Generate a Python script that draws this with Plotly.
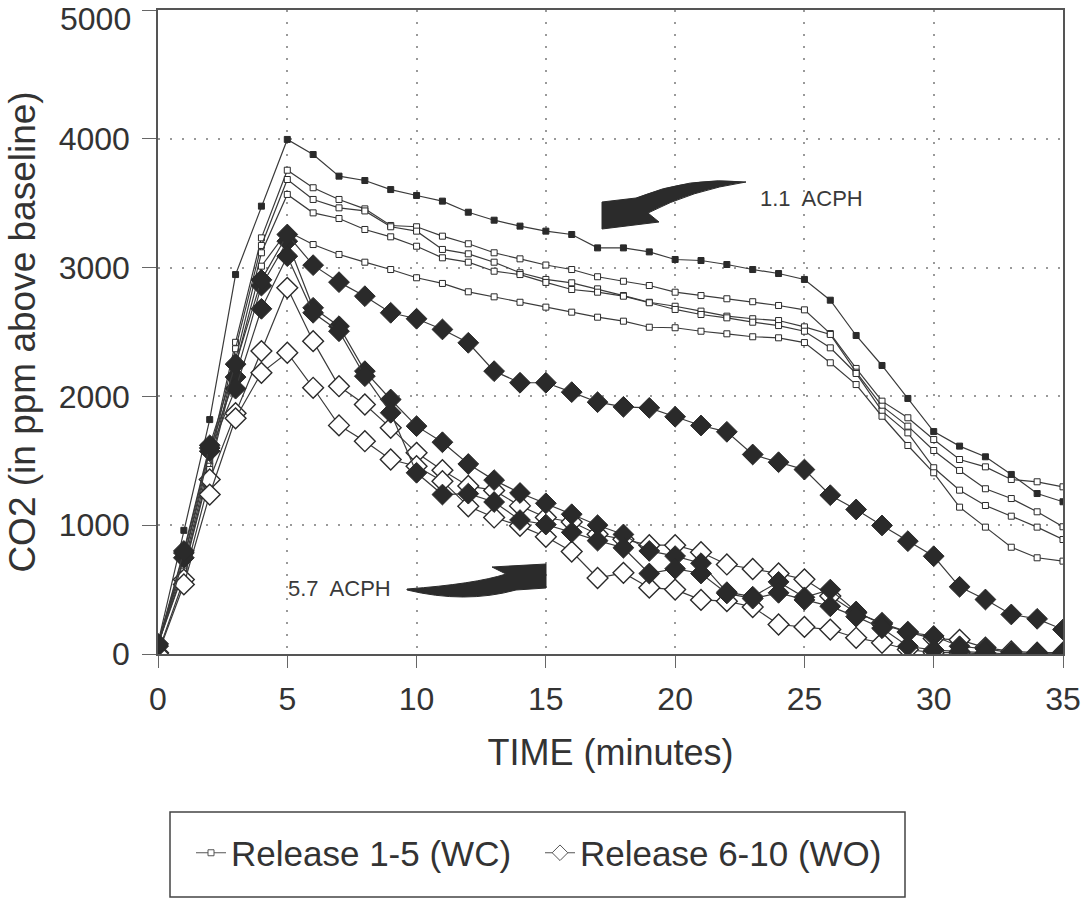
import plotly.graph_objects as go

# ---------------- data ----------------
time_min = list(range(36))

# Release 1-5 (WC) - squares
wc_1 = [87, 960, 1820, 2946, 3477, 3995, 3878, 3710, 3676, 3606, 3560, 3516, 3430, 3368, 3322, 3283,
        3257, 3153, 3153, 3122, 3063, 3055, 3024, 2985, 2954, 2908, 2747, 2473, 2240, 1984, 1727, 1614,
        1531, 1394, 1246, 1182]
wc_2 = [90, 734, 1536, 2420, 3231, 3756, 3620, 3529, 3456, 3327, 3317, 3244, 3185, 3115, 3068, 3020,
        2985, 2929, 2894, 2861, 2809, 2783, 2758, 2735, 2706, 2672, 2488, 2217, 1963, 1834, 1665, 1510,
        1453, 1355, 1337, 1298]
wc_3 = [85, 695, 1497, 2370, 3172, 3684, 3529, 3464, 3440, 3317, 3283, 3141, 3107, 3042, 2960, 2908,
        2882, 2835, 2783, 2731, 2700, 2662, 2623, 2603, 2589, 2540, 2481, 2188, 1924, 1769, 1580, 1425,
        1283, 1207, 1104, 988]
wc_4 = [80, 660, 1458, 2290, 3115, 3568, 3425, 3381, 3296, 3239, 3166, 3076, 3042, 2972, 2946, 2885,
        2830, 2809, 2778, 2727, 2675, 2636, 2610, 2576, 2550, 2506, 2377, 2178, 1885, 1717, 1446, 1272,
        1153, 1070, 985, 889]
wc_5 = [75, 643, 1432, 2240, 3011, 3283, 3179, 3102, 3042, 2985, 2921, 2877, 2812, 2773, 2731, 2693,
        2654, 2615, 2584, 2537, 2533, 2506, 2486, 2463, 2455, 2418, 2261, 2092, 1846, 1619, 1407, 1140,
        985, 829, 747, 721]

# Release 6-10 (WO) - diamonds
wo_6 = [80, 800, 1620, 2250, 2905, 3257, 3019, 2887, 2778, 2649, 2603, 2520, 2416, 2196, 2106, 2106,
        2033, 1955, 1919, 1911, 1842, 1774, 1725, 1549, 1489, 1432, 1233, 1122, 998, 876, 759, 522,
        423, 307, 273, 190]
wo_7 = [70, 785, 1600, 2150, 2860, 3205, 2688, 2545, 2196, 1976, 1769, 1644, 1475, 1350, 1250, 1170,
        1085, 1000, 928, 800, 760, 705, 480, 445, 560, 440, 500, 330, 230, 170, 140, 60, 40, 10, 0, 0]
wo_8 = [60, 747, 1575, 2060, 2680, 3089, 2649, 2506, 2157, 1873, 1407, 1238, 1245, 1180, 1040, 1005,
        945, 880, 825, 625, 662, 625, 470, 430, 475, 420, 370, 290, 200, 60, 30, 20, 10, 0, 0, 0]
wo_9 = [10, 578, 1355, 1870, 2352, 2843, 2429, 2079, 1937, 1756, 1562, 1427, 1305, 1270, 1150, 1060,
        1025, 930, 890, 845, 845, 790, 695, 660, 625, 580, 450, 320, 240, 170, 120, 110, 50, 20, 10, 10]
wo_10 = [0, 540, 1238, 1830, 2183, 2339, 2067, 1775, 1652, 1510, 1458, 1342, 1147, 1060, 995, 910,
         795, 590, 630, 515, 500, 420, 410, 365, 229, 210, 190, 126, 87, 35, 10, 10, 0, 0, 0, 0]

x_ticks = [0, 5, 10, 15, 20, 25, 30, 35]
y_ticks = [0, 1000, 2000, 3000, 4000, 5000]
y_tick_text = ["0", "1000", "2000", "3000", "4000", ""]   # top label drawn separately (kept inside page)
y_top_label = "5000"
legend_names = ["Release 1-5 (WC)", "Release 6-10 (WO)"]
notes = ["1.1  ACPH", "5.7  ACPH"]

# ---------------- styling ----------------
FONT = "Liberation Sans, Arial, Helvetica, sans-serif"
INK = "#2a2a2a"
LINE = dict(color="#3a3a3a", width=1.2)

fig = go.Figure()

def add(y, symbol, size, filled, lw=1.0):
    fig.add_trace(go.Scatter(
        x=time_min, y=y, mode="lines+markers", showlegend=False,
        line=LINE,
        marker=dict(symbol=symbol, size=size,
                    color=INK if filled else "white",
                    line=dict(color=INK, width=lw)),
        hoverinfo="skip"))

# squares
add(wc_2, "square", 6, False)
add(wc_3, "square", 6, False)
add(wc_4, "square", 6, False)
add(wc_5, "square", 6, False)
add(wc_1, "square", 6, True)
# diamonds
add(wo_9, "diamond", 16, False, 1.4)
add(wo_10, "diamond", 16, False, 1.4)
add(wo_7, "diamond", 16, True, 1.0)
add(wo_8, "diamond", 16, True, 1.0)
add(wo_6, "diamond", 16, True, 1.0)

# legend-only entries
fig.add_trace(go.Scatter(x=[None], y=[None], mode="lines+markers", name=legend_names[0],
                         line=dict(color="#555", width=1),
                         marker=dict(symbol="square", size=6, color="white",
                                     line=dict(color="#555", width=1))))
fig.add_trace(go.Scatter(x=[None], y=[None], mode="lines+markers", name=legend_names[1],
                         line=dict(color="#555", width=1),
                         marker=dict(symbol="diamond", size=12, color="white",
                                     line=dict(color="#555", width=1))))

# ---------------- geometry helpers ----------------
L, R, T, B = 158, 1063, 10, 654
XR, YR = 35.0, 5000.0

def P(px, py):
    x = (px - L) / (R - L) * XR
    y = (B - py) / (B - T) * YR
    return f"{x:.4f},{y:.2f}"

def px_paper(px):
    return (px - L) / (R - L)

def py_paper(py):
    return (B - py) / (B - T)

# curved arrows
arrow1 = ("M " + P(746, 182) +
          " Q " + P(690, 176) + " " + P(636, 198) +
          " L " + P(602, 202) + " L " + P(602, 229) + " L " + P(659, 222) +
          " L " + P(648, 213) +
          " Q " + P(692, 190) + " " + P(746, 182) + " Z")
arrow2 = ("M " + P(407, 589) +
          " Q " + P(475, 584) + " " + P(506, 574) +
          " L " + P(492, 567) + " L " + P(546, 564) + " L " + P(546, 588) +
          " L " + P(516, 590) +
          " Q " + P(465, 604) + " " + P(407, 590) + " Z")
for pth in (arrow1, arrow2):
    fig.add_shape(type="path", path=pth, xref="x", yref="y",
                  fillcolor="#2b2b2b", line=dict(color="#2b2b2b", width=1), layer="above")

fig.add_annotation(x=(811 - L) / (R - L) * XR, y=(B - 198) / (B - T) * YR, text=notes[0],
                   showarrow=False, font=dict(family=FONT, size=22, color="#3a3a3a"))
fig.add_annotation(x=(339 - L) / (R - L) * XR, y=(B - 588) / (B - T) * YR, text=notes[1],
                   showarrow=False, font=dict(family=FONT, size=22, color="#3a3a3a"))

# top y tick label, kept fully inside the page
fig.add_annotation(xref="paper", yref="paper", x=px_paper(132), y=py_paper(0),
                   xanchor="right", yanchor="top", text=y_top_label, showarrow=False,
                   borderpad=0, font=dict(family=FONT, size=32, color="#333"))

# legend frame
fig.add_shape(type="rect", xref="paper", yref="paper",
              x0=px_paper(170), x1=px_paper(905), y0=py_paper(897), y1=py_paper(812),
              line=dict(color="#444", width=1.5), fillcolor="rgba(0,0,0,0)")

axis_common = dict(
    showline=True, mirror=True, linecolor="#555", linewidth=1.5,
    showgrid=True, gridcolor="#9a9a9a", gridwidth=1.5, griddash="2px,10px",
    zeroline=False, ticks="outside", tickcolor="#666", tickwidth=1,
    ticklabeloverflow="allow", automargin=False,
    tickfont=dict(family=FONT, size=32, color="#333"),
)

fig.update_layout(
    width=1086, height=899, autosize=False,
    margin=dict(l=L, r=1086 - R, t=T, b=899 - B),
    plot_bgcolor="white", paper_bgcolor="white",
    font=dict(family=FONT, color="#333"),
    xaxis=dict(range=[0, 35], tickvals=x_ticks, ticklen=12, ticklabelstandoff=4,
               title=dict(text="TIME (minutes)", font=dict(family=FONT, size=36, color="#333"),
                          standoff=24),
               **axis_common),
    yaxis=dict(range=[0, 5000], tickvals=y_ticks, ticktext=y_tick_text,
               ticklen=14, ticklabelstandoff=6,
               title=dict(text="CO2 (in ppm above baseline)",
                          font=dict(family=FONT, size=37, color="#333"), standoff=12),
               **axis_common),
    legend=dict(orientation="h", x=px_paper(191), y=py_paper(853),
                xanchor="left", yanchor="middle",
                borderwidth=0, bgcolor="rgba(0,0,0,0)",
                font=dict(family=FONT, size=35, color="#333"),
                itemwidth=30, entrywidth=304, entrywidthmode="pixels"),
)

fig.write_html("out.html")
